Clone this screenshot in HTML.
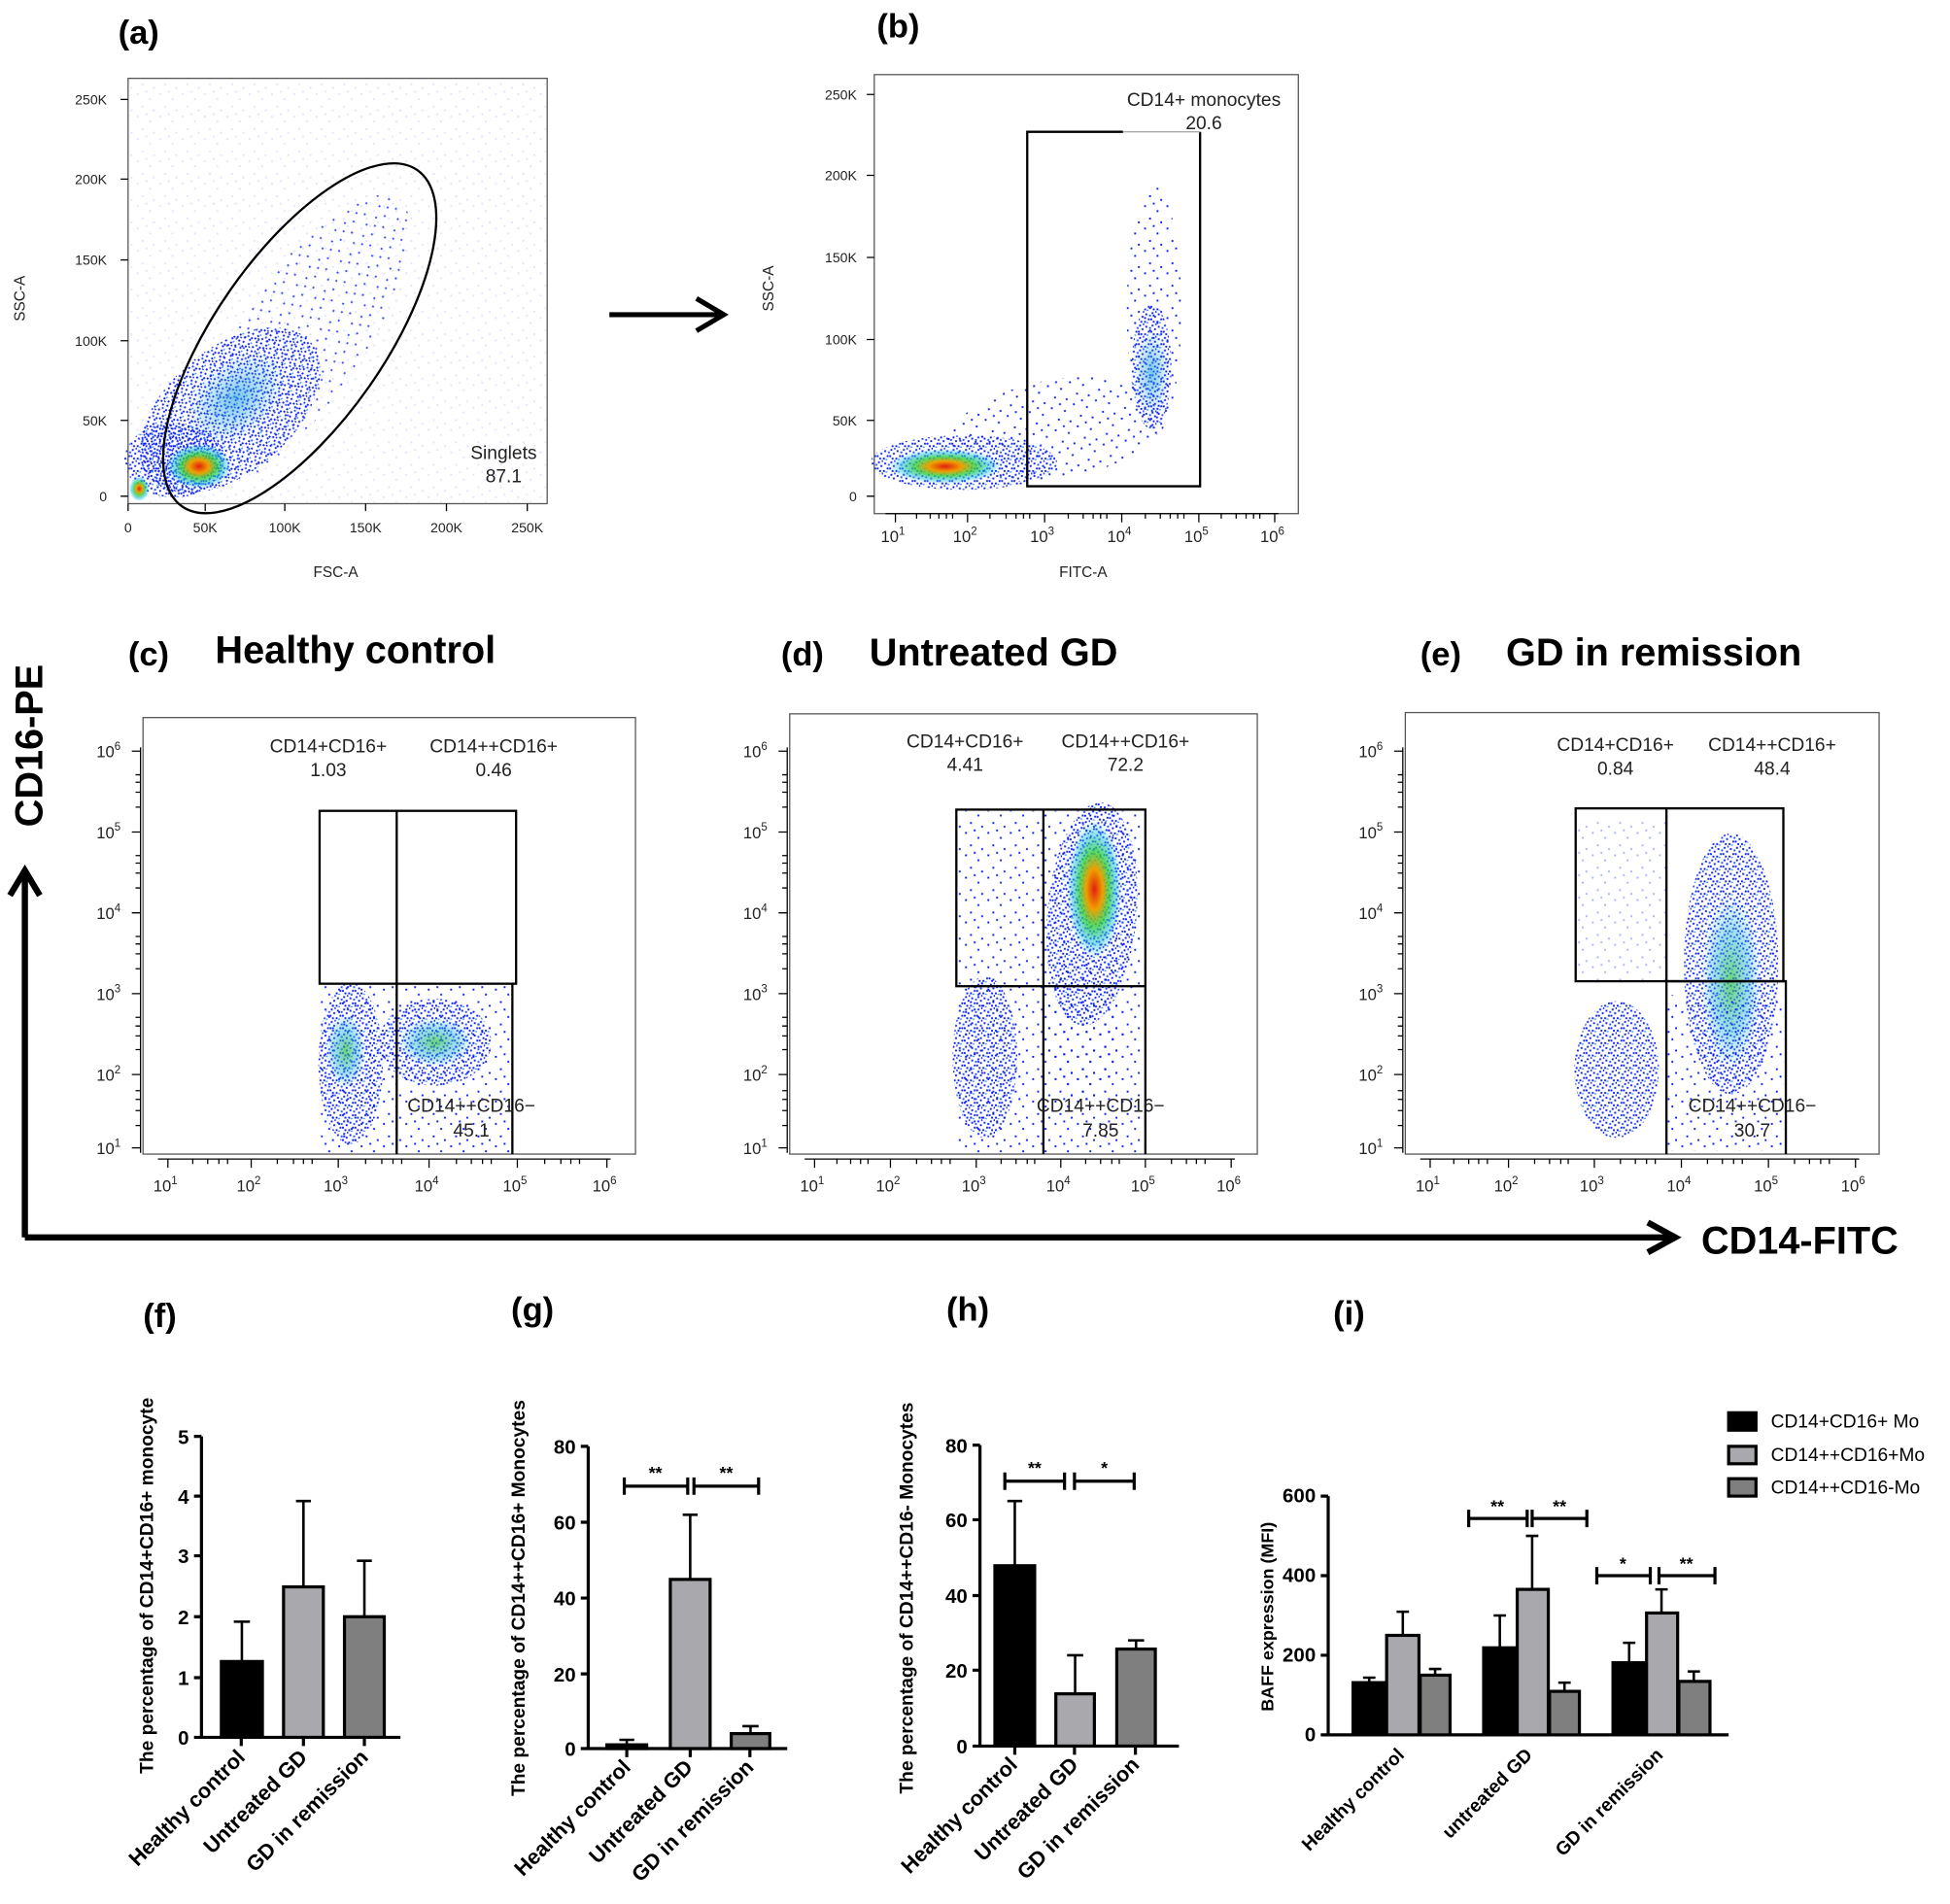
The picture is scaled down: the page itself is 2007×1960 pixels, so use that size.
<!DOCTYPE html>
<html><head><meta charset="utf-8"><style>
html,body{margin:0;padding:0;background:#fff}
svg{display:block}
text{font-family:"Liberation Sans",sans-serif}
</style></head><body>
<svg width="2007" height="1960" viewBox="0 0 1568 1531" preserveAspectRatio="none" xmlns="http://www.w3.org/2000/svg">
<defs>
<pattern id="pd" width="10" height="10" patternUnits="userSpaceOnUse">
<rect x="1" y="2" width="1.5" height="1.5" fill="#0a1ef0"/><rect x="6" y="1" width="1.5" height="1.5" fill="#0a1ef0"/><rect x="8" y="4" width="1.5" height="1.5" fill="#0a1ef0"/><rect x="3" y="6" width="1.5" height="1.5" fill="#0a1ef0"/><rect x="7" y="8" width="1.5" height="1.5" fill="#0a1ef0"/><rect x="0" y="8" width="1.5" height="1.5" fill="#0a1ef0"/><rect x="4" y="3" width="1.5" height="1.5" fill="#2050ff"/><rect x="5" y="6" width="1.5" height="1.5" fill="#0a1ef0"/><rect x="9" y="0" width="1.5" height="1.5" fill="#0a1ef0"/><rect x="2" y="9" width="1.5" height="1.5" fill="#3090ff"/>
</pattern>
<pattern id="ps" width="18" height="18" patternUnits="userSpaceOnUse">
<rect x="2" y="3" width="1.5" height="1.5" fill="#0a1ef0"/><rect x="12" y="7" width="1.5" height="1.5" fill="#0a1ef0"/><rect x="6" y="13" width="1.5" height="1.5" fill="#0a1ef0"/><rect x="15" y="16" width="1.5" height="1.5" fill="#0a1ef0"/><rect x="9" y="1" width="1.5" height="1.5" fill="#0a1ef0"/>
</pattern>
<radialGradient id="hot">
<stop offset="0" stop-color="#e02010"/><stop offset="0.3" stop-color="#f0a000"/><stop offset="0.55" stop-color="#30d040" stop-opacity="0.8"/><stop offset="0.8" stop-color="#20c0e0" stop-opacity="0.5"/><stop offset="1" stop-color="#20c0e0" stop-opacity="0"/>
</radialGradient>
<radialGradient id="warm">
<stop offset="0" stop-color="#30c040" stop-opacity="0.7"/><stop offset="0.6" stop-color="#20b0e0" stop-opacity="0.4"/><stop offset="1" stop-color="#20b0e0" stop-opacity="0"/>
</radialGradient>
<radialGradient id="cy">
<stop offset="0" stop-color="#20a0e0" stop-opacity="0.6"/><stop offset="1" stop-color="#20a0e0" stop-opacity="0"/>
</radialGradient>
</defs>

<g>
<!-- a -->
<rect x="104" y="64" width="335" height="340" fill="url(#ps)" opacity="0.12"/>
<ellipse cx="240" cy="275" rx="140" ry="50" transform="rotate(-55 240 275)" fill="url(#ps)" opacity="0.8"/>
<ellipse cx="185" cy="330" rx="85" ry="50" transform="rotate(-40 185 330)" fill="url(#pd)"/>
<ellipse cx="140" cy="370" rx="40" ry="30" fill="url(#pd)"/>
<ellipse cx="190" cy="320" rx="45" ry="30" transform="rotate(-40 190 320)" fill="url(#cy)"/>
<ellipse cx="160" cy="375" rx="26" ry="18" fill="url(#hot)"/>
<ellipse cx="112" cy="393" rx="8" ry="10" fill="url(#hot)"/>
<!-- b -->
<ellipse cx="775" cy="372" rx="75" ry="22" fill="url(#pd)"/>
<ellipse cx="850" cy="345" rx="90" ry="40" transform="rotate(-10 850 345)" fill="url(#ps)"/>
<ellipse cx="760" cy="375" rx="45" ry="14" fill="url(#hot)"/>
<ellipse cx="928" cy="250" rx="22" ry="100" fill="url(#ps)"/>
<ellipse cx="926" cy="295" rx="16" ry="50" fill="url(#pd)"/>
<ellipse cx="926" cy="300" rx="14" ry="35" fill="url(#cy)"/>
<!-- c -->
<rect x="258" y="792" width="152" height="135" fill="url(#ps)"/>
<ellipse cx="282" cy="855" rx="26" ry="65" fill="url(#pd)"/>
<ellipse cx="350" cy="838" rx="45" ry="35" fill="url(#pd)"/>
<ellipse cx="278" cy="845" rx="16" ry="30" fill="url(#warm)"/>
<ellipse cx="350" cy="838" rx="30" ry="20" fill="url(#warm)"/>
<!-- d -->
<rect x="770" y="652" width="150" height="275" fill="url(#ps)"/>
<ellipse cx="878" cy="735" rx="36" ry="90" transform="rotate(5 878 735)" fill="url(#pd)"/>
<ellipse cx="880" cy="715" rx="22" ry="55" fill="url(#hot)"/>
<ellipse cx="792" cy="850" rx="26" ry="65" fill="url(#pd)"/>
<ellipse cx="872" cy="830" rx="32" ry="55" fill="url(#ps)"/>
<!-- e -->
<ellipse cx="1392" cy="775" rx="38" ry="105" fill="url(#pd)"/>
<ellipse cx="1392" cy="790" rx="24" ry="70" fill="url(#warm)"/>
<ellipse cx="1300" cy="860" rx="34" ry="55" fill="url(#pd)"/>
<rect x="1340" y="800" width="94" height="125" fill="url(#ps)"/>
<rect x="1268" y="660" width="72" height="128" fill="url(#ps)" opacity="0.35"/>
</g>

<g fill="none" stroke="#000">
<rect x="103" y="63" width="337" height="342" stroke="#555"/>
<ellipse cx="241" cy="272" rx="165" ry="68" transform="rotate(-55 241 272)" stroke-width="1.8"/>
<rect x="703" y="60" width="341" height="353" stroke="#555"/>
<polyline points="903,106 826,106 826,391 965,391 965,106" stroke-width="1.8"/>
<line x1="903" y1="106" x2="965" y2="106" stroke="#aaa"/>
<line x1="490" y1="253" x2="578" y2="253" stroke-width="4"/>
<polyline points="560,240 582,253 560,266" stroke-width="4"/>
<rect x="115" y="577" width="396" height="351" stroke="#555"/>
<rect x="257" y="652" width="158" height="139" stroke-width="1.8"/>
<line x1="319" y1="652" x2="319" y2="928" stroke-width="1.8"/>
<line x1="412" y1="791" x2="412" y2="928" stroke-width="1.8"/>
<rect x="635" y="574" width="376" height="354" stroke="#555"/>
<rect x="769" y="651" width="152" height="142" stroke-width="1.8"/>
<line x1="839" y1="651" x2="839" y2="928" stroke-width="1.8"/>
<line x1="921" y1="793" x2="921" y2="928" stroke-width="1.8"/>
<rect x="1130" y="573" width="381" height="355" stroke="#555"/>
<rect x="1267" y="650" width="167" height="139" stroke-width="1.8"/>
<line x1="1340" y1="650" x2="1340" y2="928" stroke-width="1.8"/>
<polyline points="1340,789 1436,789 1436,928" stroke-width="1.8"/>
<line x1="20" y1="995" x2="20" y2="705" stroke-width="5"/>
<polyline points="8,720 20,700 32,720" stroke-width="5"/>
<line x1="20" y1="995" x2="1345" y2="995" stroke-width="5"/>
<polyline points="1325,983 1347,995 1325,1007" stroke-width="5"/>
</g>

<g stroke="#000" stroke-width="1">
<path d="M97 399H103M97 338H103M97 274H103M97 209H103M97 144H103M97 80H103"/>
<path d="M103 405V411M165 405V411M229 405V411M294 405V411M359 405V411M424 405V411"/>
<path d="M697 399H703M697 338H703M697 273H703M697 207H703M697 141H703M697 76H703"/>
<path d="M712 413H1028M720 413V420M778 413V420M840 413V420M902 413V420M964 413V420M1025 413V420"/>
<path d="M737 413v4M748 413v4M755 413v4M761 413v4M766 413v4M796 413v4M809 413v4M817 413v4M823 413v4M828 413v4M859 413v4M871 413v4M879 413v4M885 413v4M890 413v4M921 413v4M933 413v4M941 413v4M947 413v4M952 413v4M982 413v4M994 413v4M1002 413v4M1008 413v4M1013 413v4"/>
<path d="M127 932H491M135 932V939M202 932V939M272 932V939M345 932V939M416 932V939M488 932V939"/>
<path d="M155 932v4M167 932v4M176 932v4M183 932v4M223 932v4M236 932v4M244 932v4M251 932v4M294 932v4M307 932v4M316 932v4M323 932v4M367 932v4M379 932v4M388 932v4M395 932v4M438 932v4M451 932v4M459 932v4M466 932v4"/>
<path d="M647 932H993M655 932V939M716 932V939M785 932V939M853 932V939M921 932V939M990 932V939"/>
<path d="M673 932v4M684 932v4M692 932v4M698 932v4M737 932v4M749 932v4M757 932v4M764 932v4M805 932v4M817 932v4M826 932v4M832 932v4M873 932v4M885 932v4M894 932v4M900 932v4M942 932v4M954 932v4M962 932v4M969 932v4"/>
<path d="M1142 932H1495M1150 932V939M1213 932V939M1282 932V939M1352 932V939M1422 932V939M1492 932V939"/>
<path d="M1169 932v4M1181 932v4M1189 932v4M1196 932v4M1234 932v4M1246 932v4M1255 932v4M1261 932v4M1303 932v4M1315 932v4M1324 932v4M1331 932v4M1373 932v4M1385 932v4M1394 932v4M1401 932v4M1443 932v4M1455 932v4M1464 932v4M1471 932v4"/>
<path d="M113 927V601M106 923H113M106 864H113M106 799H113M106 734H113M106 669H113M106 604H113"/>
<path d="M109 905h4M109 893h4M109 884h4M109 877h4M109 844h4M109 833h4M109 825h4M109 818h4M109 779h4M109 767h4M109 759h4M109 753h4M109 714h4M109 702h4M109 694h4M109 688h4M109 649h4M109 637h4M109 629h4M109 623h4"/>
<path d="M633 927V601M626 923H633M626 864H633M626 799H633M626 734H633M626 669H633M626 604H633"/>
<path d="M629 905h4M629 893h4M629 884h4M629 877h4M629 844h4M629 833h4M629 825h4M629 818h4M629 779h4M629 767h4M629 759h4M629 753h4M629 714h4M629 702h4M629 694h4M629 688h4M629 649h4M629 637h4M629 629h4M629 623h4"/>
<path d="M1128 927V601M1121 923H1128M1121 864H1128M1121 799H1128M1121 734H1128M1121 669H1128M1121 604H1128"/>
<path d="M1124 905h4M1124 893h4M1124 884h4M1124 877h4M1124 844h4M1124 833h4M1124 825h4M1124 818h4M1124 779h4M1124 767h4M1124 759h4M1124 753h4M1124 714h4M1124 702h4M1124 694h4M1124 688h4M1124 649h4M1124 637h4M1124 629h4M1124 623h4"/>
</g>

<g font-size="11" fill="#222" text-anchor="end">
<text x="86" y="403">0</text><text x="86" y="342">50K</text><text x="86" y="278">100K</text><text x="86" y="213">150K</text><text x="86" y="148">200K</text><text x="86" y="84">250K</text>
<text x="689" y="403">0</text><text x="689" y="342">50K</text><text x="689" y="277">100K</text><text x="689" y="211">150K</text><text x="689" y="145">200K</text><text x="689" y="80">250K</text>
</g>
<g font-size="11" fill="#222" text-anchor="middle">
<text x="103" y="428">0</text><text x="165" y="428">50K</text><text x="229" y="428">100K</text><text x="294" y="428">150K</text><text x="359" y="428">200K</text><text x="424" y="428">250K</text>
<text x="270" y="464" font-size="12">FSC-A</text>
<text x="871" y="464" font-size="12">FITC-A</text>
</g>
<text transform="translate(20,240) rotate(-90)" font-size="12" fill="#222" text-anchor="middle">SSC-A</text>
<text transform="translate(622,232) rotate(-90)" font-size="12" fill="#222" text-anchor="middle">SSC-A</text>

<g font-size="13" fill="#222" text-anchor="middle">
<text x="718" y="436">10<tspan dy="-6" font-size="9">1</tspan></text><text x="776" y="436">10<tspan dy="-6" font-size="9">2</tspan></text><text x="838" y="436">10<tspan dy="-6" font-size="9">3</tspan></text><text x="900" y="436">10<tspan dy="-6" font-size="9">4</tspan></text><text x="962" y="436">10<tspan dy="-6" font-size="9">5</tspan></text><text x="1023" y="436">10<tspan dy="-6" font-size="9">6</tspan></text>
<text x="133" y="958">10<tspan dy="-6" font-size="9">1</tspan></text><text x="200" y="958">10<tspan dy="-6" font-size="9">2</tspan></text><text x="270" y="958">10<tspan dy="-6" font-size="9">3</tspan></text><text x="343" y="958">10<tspan dy="-6" font-size="9">4</tspan></text><text x="414" y="958">10<tspan dy="-6" font-size="9">5</tspan></text><text x="486" y="958">10<tspan dy="-6" font-size="9">6</tspan></text>
<text x="653" y="958">10<tspan dy="-6" font-size="9">1</tspan></text><text x="714" y="958">10<tspan dy="-6" font-size="9">2</tspan></text><text x="783" y="958">10<tspan dy="-6" font-size="9">3</tspan></text><text x="851" y="958">10<tspan dy="-6" font-size="9">4</tspan></text><text x="919" y="958">10<tspan dy="-6" font-size="9">5</tspan></text><text x="988" y="958">10<tspan dy="-6" font-size="9">6</tspan></text>
<text x="1148" y="958">10<tspan dy="-6" font-size="9">1</tspan></text><text x="1211" y="958">10<tspan dy="-6" font-size="9">2</tspan></text><text x="1280" y="958">10<tspan dy="-6" font-size="9">3</tspan></text><text x="1350" y="958">10<tspan dy="-6" font-size="9">4</tspan></text><text x="1420" y="958">10<tspan dy="-6" font-size="9">5</tspan></text><text x="1490" y="958">10<tspan dy="-6" font-size="9">6</tspan></text>
</g>
<g font-size="13" fill="#222" text-anchor="end">
<text x="97" y="928">10<tspan dy="-6" font-size="9">1</tspan></text><text x="97" y="869">10<tspan dy="-6" font-size="9">2</tspan></text><text x="97" y="804">10<tspan dy="-6" font-size="9">3</tspan></text><text x="97" y="739">10<tspan dy="-6" font-size="9">4</tspan></text><text x="97" y="674">10<tspan dy="-6" font-size="9">5</tspan></text><text x="97" y="609">10<tspan dy="-6" font-size="9">6</tspan></text>
<text x="617" y="928">10<tspan dy="-6" font-size="9">1</tspan></text><text x="617" y="869">10<tspan dy="-6" font-size="9">2</tspan></text><text x="617" y="804">10<tspan dy="-6" font-size="9">3</tspan></text><text x="617" y="739">10<tspan dy="-6" font-size="9">4</tspan></text><text x="617" y="674">10<tspan dy="-6" font-size="9">5</tspan></text><text x="617" y="609">10<tspan dy="-6" font-size="9">6</tspan></text>
<text x="1112" y="928">10<tspan dy="-6" font-size="9">1</tspan></text><text x="1112" y="869">10<tspan dy="-6" font-size="9">2</tspan></text><text x="1112" y="804">10<tspan dy="-6" font-size="9">3</tspan></text><text x="1112" y="739">10<tspan dy="-6" font-size="9">4</tspan></text><text x="1112" y="674">10<tspan dy="-6" font-size="9">5</tspan></text><text x="1112" y="609">10<tspan dy="-6" font-size="9">6</tspan></text>
</g>

<g font-weight="bold" font-size="27">
<text x="95" y="35">(a)</text><text x="705" y="30">(b)</text>
<text x="103" y="535">(c)</text><text x="628" y="535">(d)</text><text x="1142" y="535">(e)</text>
<text x="115" y="1067">(f)</text><text x="411" y="1062">(g)</text><text x="761" y="1062">(h)</text><text x="1072" y="1065">(i)</text>
</g>
<g font-weight="bold" font-size="31">
<text x="173" y="533">Healthy control</text><text x="699" y="535">Untreated GD</text><text x="1211" y="535">GD in remission</text>
<text x="1368" y="1008">CD14-FITC</text>
<text transform="translate(34,665) rotate(-90)">CD16-PE</text>
</g>
<g font-size="15" fill="#222" text-anchor="middle">
<text x="405" y="369">Singlets</text><text x="405" y="388">87.1</text>
<text x="968" y="85">CD14+ monocytes</text><text x="968" y="104">20.6</text>
<text x="264" y="605">CD14+CD16+</text><text x="264" y="624">1.03</text>
<text x="397" y="605">CD14++CD16+</text><text x="397" y="624">0.46</text>
<text x="379" y="894">CD14++CD16−</text><text x="379" y="914">45.1</text>
<text x="776" y="601">CD14+CD16+</text><text x="776" y="620">4.41</text>
<text x="905" y="601">CD14++CD16+</text><text x="905" y="620">72.2</text>
<text x="885" y="894">CD14++CD16−</text><text x="885" y="914">7.85</text>
<text x="1299" y="604">CD14+CD16+</text><text x="1299" y="623">0.84</text>
<text x="1425" y="604">CD14++CD16+</text><text x="1425" y="623">48.4</text>
<text x="1409" y="894">CD14++CD16−</text><text x="1409" y="914">30.7</text>
</g>

<g stroke="#000" stroke-width="2.5" fill="none">
<path d="M162 1155V1397H322M156 1397H162M156 1349H162M156 1300H162M156 1251H162M156 1203H162M156 1155H162M194 1397v7M244 1397v7M293 1397v7"/>
<path d="M194.5 1336V1304M188 1304h13M244 1276V1207M238 1207h12M293 1300V1255M287 1255h12" stroke-width="2"/>
<path d="M473 1163V1406H633M467 1406H473M467 1346H473M467 1285H473M467 1224H473M467 1163H473M504 1406v7M555 1406v7M603 1406v7"/>
<path d="M504 1403V1399M498 1399h12M555 1270V1218M549 1218h12M603.5 1394V1388M597 1388h13" stroke-width="2"/>
<path d="M502 1195H553M502 1188v14M553 1188v14M558 1195H610M558 1188v14M610 1188v14"/>
<path d="M788 1162V1404H948M782 1404H788M782 1343H788M782 1283H788M782 1222H788M782 1162H788M816 1404v7M864 1404v7M913 1404v7"/>
<path d="M816 1259V1207M810 1207h12M864.5 1362V1331M858 1331h13M913.5 1326V1319M907 1319h13" stroke-width="2"/>
<path d="M808 1191H856M808 1184v14M856 1184v14M864 1191H912M864 1184v14M912 1184v14"/>
<path d="M1068 1203V1395H1390M1062 1395H1068M1062 1331H1068M1062 1267H1068M1062 1203H1068"/>
<path d="M1101 1353V1349M1096 1349h10M1128 1315V1296M1123 1296h10M1154 1347V1342M1149 1342h10M1206 1325V1299M1201 1299h10M1232 1278V1235M1227 1235h10M1258 1360V1353M1253 1353h10M1310 1337V1321M1305 1321h10M1336 1297V1278M1331 1278h10M1362 1352V1344M1357 1344h10" stroke-width="2"/>
<path d="M1181 1221H1228M1181 1214v14M1228 1214v14M1232 1221H1276M1232 1214v14M1276 1214v14M1284 1267H1327M1284 1260v14M1327 1260v14M1334 1267H1379M1334 1260v14M1379 1260v14"/>
</g>
<g stroke="#000" stroke-width="2.5">
<rect x="178" y="1336" width="33" height="61" fill="#000"/>
<rect x="228" y="1276" width="32" height="121" fill="#a9a9ad"/>
<rect x="277" y="1300" width="32" height="97" fill="#7f7f7f"/>
<rect x="488" y="1403" width="32" height="3" fill="#000"/>
<rect x="539" y="1270" width="32" height="136" fill="#a9a9ad"/>
<rect x="588" y="1394" width="31" height="12" fill="#7f7f7f"/>
<rect x="800" y="1259" width="32" height="145" fill="#000"/>
<rect x="849" y="1362" width="31" height="42" fill="#a9a9ad"/>
<rect x="898" y="1326" width="31" height="78" fill="#7f7f7f"/>
<rect x="1088" y="1353" width="26" height="42" fill="#000"/>
<rect x="1115" y="1315" width="26" height="80" fill="#a9a9ad"/>
<rect x="1142" y="1347" width="24" height="48" fill="#7f7f7f"/>
<rect x="1193" y="1325" width="26" height="70" fill="#000"/>
<rect x="1220" y="1278" width="25" height="117" fill="#a9a9ad"/>
<rect x="1246" y="1360" width="24" height="35" fill="#7f7f7f"/>
<rect x="1297" y="1337" width="26" height="58" fill="#000"/>
<rect x="1324" y="1297" width="25" height="98" fill="#a9a9ad"/>
<rect x="1350" y="1352" width="25" height="43" fill="#7f7f7f"/>
<rect x="1390" y="1136" width="22" height="14" fill="#000"/>
<rect x="1390" y="1163" width="22" height="14" fill="#a9a9ad"/>
<rect x="1390" y="1189" width="22" height="14" fill="#7f7f7f"/>
</g>
<g font-size="16" font-weight="bold" text-anchor="end">
<text x="152" y="1403">0</text><text x="152" y="1355">1</text><text x="152" y="1306">2</text><text x="152" y="1257">3</text><text x="152" y="1209">4</text><text x="152" y="1161">5</text>
<text x="463" y="1412">0</text><text x="463" y="1352">20</text><text x="463" y="1291">40</text><text x="463" y="1230">60</text><text x="463" y="1169">80</text>
<text x="778" y="1410">0</text><text x="778" y="1349">20</text><text x="778" y="1289">40</text><text x="778" y="1228">60</text><text x="778" y="1168">80</text>
<text x="1058" y="1400">0</text><text x="1058" y="1336">200</text><text x="1058" y="1272">400</text><text x="1058" y="1208">600</text>
</g>
<g font-size="14" font-weight="bold" text-anchor="middle">
<text x="527" y="1189">**</text><text x="584" y="1189">**</text>
<text x="832" y="1185">**</text><text x="888" y="1185">*</text>
<text x="1204" y="1216">**</text><text x="1254" y="1216">**</text>
<text x="1305" y="1262">*</text><text x="1356" y="1262">**</text>
</g>
<g font-size="17" font-weight="bold" text-anchor="end">
<text transform="translate(198,1414) rotate(-45)">Healthy control</text>
<text transform="translate(248,1414) rotate(-45)">Untreated GD</text>
<text transform="translate(297,1414) rotate(-45)">GD in remission</text>
<text transform="translate(508,1422) rotate(-45)">Healthy control</text>
<text transform="translate(558,1422) rotate(-45)">Untreated GD</text>
<text transform="translate(607,1422) rotate(-45)">GD in remission</text>
<text transform="translate(819,1420) rotate(-45)">Healthy control</text>
<text transform="translate(868,1420) rotate(-45)">Untreated GD</text>
<text transform="translate(917,1420) rotate(-45)">GD in remission</text>
</g>
<g font-size="15" font-weight="bold" text-anchor="end">
<text transform="translate(1130,1412) rotate(-45)">Healthy control</text>
<text transform="translate(1233,1412) rotate(-45)">untreated GD</text>
<text transform="translate(1338,1412) rotate(-45)">GD in remission</text>
</g>
<g font-size="15" font-weight="bold" text-anchor="middle">
<text transform="translate(123,1275) rotate(-90)">The percentage of CD14+CD16+ monocyte</text>
<text transform="translate(422,1285) rotate(-90)">The percentage of CD14++CD16+ Monocytes</text>
<text transform="translate(734,1285) rotate(-90)">The percentage of CD14++CD16- Monocytes</text>
<text transform="translate(1024,1300) rotate(-90)" font-size="14">BAFF expression (MFI)</text>
</g>
<g font-size="15">
<text x="1424" y="1148">CD14+CD16+ Mo</text><text x="1424" y="1175">CD14++CD16+Mo</text><text x="1424" y="1201">CD14++CD16-Mo</text>
</g>
</svg>
</body></html>
